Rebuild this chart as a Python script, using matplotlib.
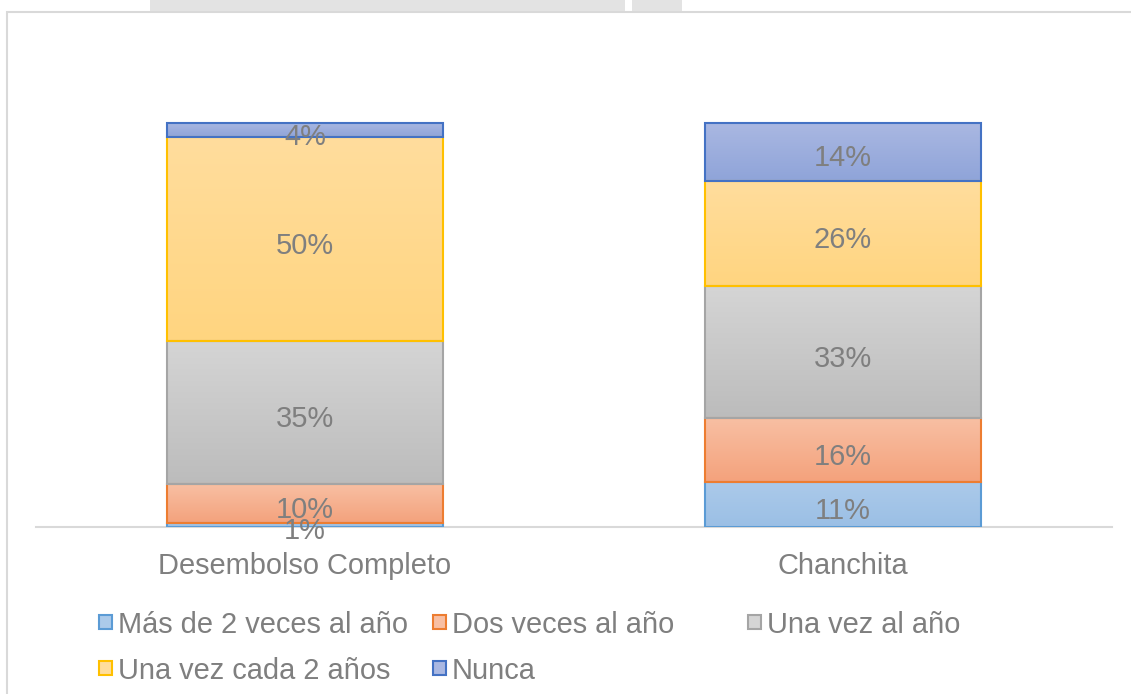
import numpy as np
import matplotlib
matplotlib.use("Agg")
import matplotlib.pyplot as plt
from matplotlib.patches import Rectangle
from matplotlib.colors import to_rgb

plt.rcParams['font.family'] = ['Liberation Sans', 'DejaVu Sans']

categories = ["Desembolso Completo", "Chanchita"]
series = ["Más de 2 veces al año", "Dos veces al año", "Una vez al año",
          "Una vez cada 2 años", "Nunca"]
mas_de_2 = [0.010, 0.111]
dos_veces = [0.096, 0.158]
una_vez = [0.354, 0.327]
cada_2 = [0.504, 0.260]
nunca = [0.036, 0.144]
values = [mas_de_2, dos_veces, una_vez, cada_2, nunca]

edge_colors = ["#5B9BD5", "#ED7D31", "#A5A5A5", "#FFC000", "#4472C4"]
top_colors = ["#ABCAEA", "#F8BFA3", "#D5D5D5", "#FFDD9D", "#AAB8E2"]
bot_colors = ["#9BBFE5", "#F4A27C", "#BCBCBC", "#FFD580", "#8FA4D9"]
text_color = "#7F7F7F"
FS = 20.9

W, H = 1131, 694
fig = plt.figure(figsize=(W / 100, H / 100), dpi=100)
fig.patch.set_facecolor("white")

# outer chart border
fig.add_artist(Rectangle((7 / W, -0.01), 1.2, 1 - 12 / H + 0.01, transform=fig.transFigure,
                         fill=False, edgecolor="#D9D9D9", linewidth=1.5))
# faint watermark fragments above the chart
for (x0, x1) in [(150, 625), (632, 682)]:
    fig.add_artist(Rectangle((x0 / W, 1 - 11 / H), (x1 - x0) / W, 11 / H,
                             transform=fig.transFigure, facecolor="#E3E3E3", edgecolor="none"))

ax = fig.add_axes([36 / W, 1 - 527 / H, (1112 - 36) / W, 485 / H])
ax.set_facecolor("none")

x = np.arange(len(categories))
width = 0.513
bottom = np.zeros(len(categories))
for i, vals in enumerate(values):
    vals = np.array(vals)
    bars = ax.bar(x, vals, width, bottom=bottom, facecolor="none",
                  edgecolor=edge_colors[i], linewidth=1.5, zorder=3, label=series[i])
    c_top = np.array(to_rgb(top_colors[i]))
    c_bot = np.array(to_rgb(bot_colors[i]))
    grad = np.linspace(0, 1, 64)[:, None, None]
    img = c_top * (1 - grad) + c_bot * grad
    for b in bars:
        bx, by = b.get_x(), b.get_y()
        bw, bh = b.get_width(), b.get_height()
        im = ax.imshow(img, extent=(bx, bx + bw, by, by + bh), origin="upper",
                       aspect="auto", zorder=2, interpolation="bilinear")
        im.set_clip_path(b)
    for xi, v, b0 in zip(x, vals, bottom):
        ax.annotate(f"{v:.0%}", (xi, b0 + v / 2), xytext=(0, -2.5), textcoords="offset points",
                    ha="center", va="center_baseline",
                    fontsize=FS, color=text_color, zorder=4)
    bottom = bottom + vals

ax.set_xlim(-0.5, 1.5)
ax.set_ylim(0, 1.2)
for s in ["top", "right", "left"]:
    ax.spines[s].set_visible(False)
ax.spines["bottom"].set_color("#D9D9D9")
ax.spines["bottom"].set_linewidth(1.5)
ax.set_yticks([])
ax.set_xticks(x)
ax.set_xticklabels(categories, fontsize=FS, color=text_color)
ax.tick_params(axis="x", length=0, pad=18)

# legend, placed manually
leg_pos = [(99, 622), (433, 622), (748, 622), (99, 668), (433, 668)]
for i, (px, py) in enumerate(leg_pos):
    fig.add_artist(Rectangle((px / W, 1 - (py + 7) / H), 13 / W, 14 / H,
                             transform=fig.transFigure, facecolor=top_colors[i],
                             edgecolor=edge_colors[i], linewidth=1.5))
    fig.text((px + 19) / W, 1 - py / H, series[i], ha="left", va="center_baseline",
             fontsize=FS, color=text_color)

fig.savefig("out.png", dpi=100, facecolor="white")
